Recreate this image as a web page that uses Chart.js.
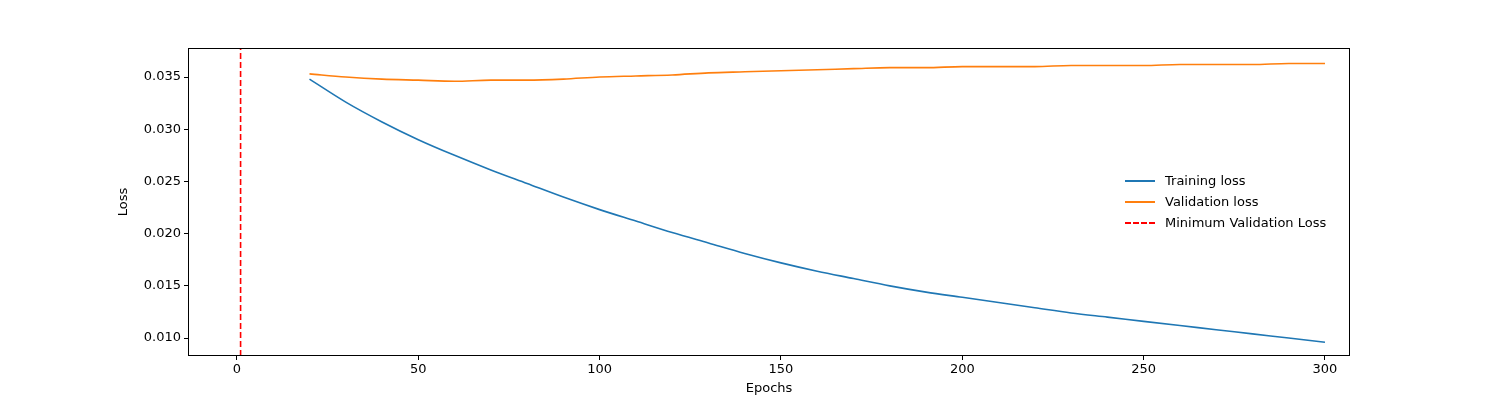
<!DOCTYPE html>
<html><head><meta charset="utf-8">
<script src="https://cdn.jsdelivr.net/npm/chart.js@4"></script>
<style>
body{margin:0;background:#fff;font-family:"DejaVu Sans",sans-serif}
#wrap{position:relative;width:1500px;height:400px}
#legend{position:absolute;left:1125px;top:170px;font-size:13px;color:#000;line-height:21px}
.row{display:flex;align-items:center}
.sw{width:30px;height:0;margin-right:10px;border-top:2px solid}
</style></head><body>
<div id="wrap"><canvas id="c" width="1500" height="400"></canvas>
<div id="legend">
<div class="row"><span class="sw" style="border-color:#1f77b4"></span>Training loss</div>
<div class="row"><span class="sw" style="border-color:#ff7f0e"></span>Validation loss</div>
<div class="row"><span class="sw" style="border-top:2px dashed #ff0000"></span>Minimum Validation Loss</div>
</div></div>
<script>
const epochs=[20,30,40,50,60,70,80,90,100,110,120,130,140,150,160,170,180,190,200,210,220,230,240,250,260,270,280,290,300];
const trainLoss=[.0348,.0326,.0307,.0290,.0275,.0261,.0248,.0235,.0223,.0212,.0201,.0191,.0181,.0172,.0164,.0157,.0150,.0144,.0139,.0134,.0129,.0124,.0120,.0116,.0112,.0108,.0104,.0100,.0096];
const valLoss=[.0353,.0350,.0348,.0347,.0346,.0347,.0347,.0348,.0350,.0351,.0352,.0354,.0355,.0356,.0357,.0358,.0359,.0359,.0360,.0360,.0360,.0361,.0361,.0361,.0362,.0362,.0362,.0363,.0363];
const minEpoch=1;
const xTicks=[0,50,100,150,200,250,300];
const yTicks=[0.010,0.015,0.020,0.025,0.030,0.035];
const Y0=0.00828,Y1=0.03778;
const frame={id:'frame',afterDraw(c){const a=c.chartArea,x=c.ctx;x.save();x.strokeStyle='#000';x.lineWidth=1;x.strokeRect(a.left+.5,a.top+.5,a.right-a.left-1,a.bottom-a.top-1);x.restore();}};
Chart.defaults.font.family='"DejaVu Sans", sans-serif';
Chart.defaults.font.size=13;Chart.defaults.color='#000';
new Chart(document.getElementById('c'),{type:'line',
data:{datasets:[
{data:epochs.map((e,i)=>({x:e,y:trainLoss[i]})),borderColor:'#1f77b4',borderWidth:1.6,pointRadius:0,cubicInterpolationMode:'monotone'},
{data:epochs.map((e,i)=>({x:e,y:valLoss[i]})),borderColor:'#ff7f0e',borderWidth:1.6,pointRadius:0,cubicInterpolationMode:'monotone'},
{data:[{x:minEpoch,y:Y0},{x:minEpoch,y:Y1}],borderColor:'#ff0000',borderWidth:1.6,borderDash:[6,3],pointRadius:0}
]},
options:{responsive:false,animation:false,layout:{padding:{top:48,right:150,left:112,bottom:0}},
plugins:{legend:{display:false},tooltip:{enabled:false}},
scales:{
x:{type:'linear',min:-13.5,max:306.9,afterBuildTicks(s){s.ticks=xTicks.map(v=>({value:v}));},
afterFit(s){s.height=44;},
grid:{drawOnChartArea:false,tickLength:4,color:'#000'},border:{display:false},
ticks:{maxRotation:0,padding:2},title:{display:true,text:'Epochs',padding:{top:0}}},
y:{min:Y0,max:Y1,afterBuildTicks(s){s.ticks=yTicks.map(v=>({value:v}));},
afterFit(s){s.width=76;},
grid:{drawOnChartArea:false,tickLength:4,color:'#000'},border:{display:false},
ticks:{padding:3,callback:v=>v.toFixed(3)},title:{display:true,text:'Loss',padding:{bottom:4}}}
}},plugins:[frame]});
</script></body></html>
